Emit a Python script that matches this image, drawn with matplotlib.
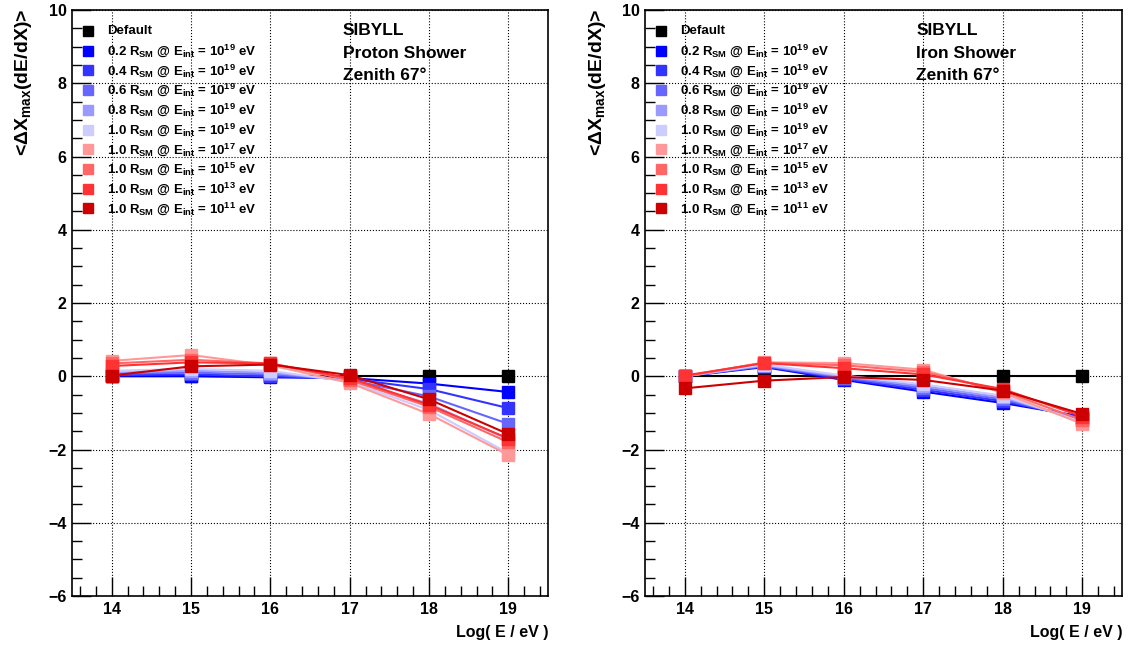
import matplotlib
matplotlib.use('Agg')
import matplotlib.pyplot as plt
from matplotlib.ticker import MultipleLocator

plt.rcParams['font.family'] = ['Liberation Sans', 'DejaVu Sans']
plt.rcParams['font.weight'] = 'bold'
plt.rcParams['mathtext.fontset'] = 'custom'
plt.rcParams['mathtext.rm'] = 'Liberation Sans:bold'
plt.rcParams['mathtext.it'] = 'Liberation Sans:bold'
plt.rcParams['mathtext.bf'] = 'Liberation Sans:bold'

# log10 of primary energy
log_e = [14, 15, 16, 17, 18, 19]

series_labels = [
    'Default',
    r'0.2 R$_{SM}$ @ E$_{int}$ = 10$^{19}$ eV',
    r'0.4 R$_{SM}$ @ E$_{int}$ = 10$^{19}$ eV',
    r'0.6 R$_{SM}$ @ E$_{int}$ = 10$^{19}$ eV',
    r'0.8 R$_{SM}$ @ E$_{int}$ = 10$^{19}$ eV',
    r'1.0 R$_{SM}$ @ E$_{int}$ = 10$^{19}$ eV',
    r'1.0 R$_{SM}$ @ E$_{int}$ = 10$^{17}$ eV',
    r'1.0 R$_{SM}$ @ E$_{int}$ = 10$^{15}$ eV',
    r'1.0 R$_{SM}$ @ E$_{int}$ = 10$^{13}$ eV',
    r'1.0 R$_{SM}$ @ E$_{int}$ = 10$^{11}$ eV',
]
series_colors = ['#000000', '#0000ff', '#3333ff', '#6666ff', '#9999ff', '#ccccff',
                 '#ff9999', '#ff6666', '#ff3333', '#cc0000']

# proton shower, <dXmax> per setting
proton_default = [0, 0, 0, 0, 0, 0]
proton_r02 = [0.0, 0.0, -0.03, -0.05, -0.2, -0.43]
proton_r04 = [0.03, 0.05, 0.0, -0.07, -0.35, -0.87]
proton_r06 = [0.07, 0.1, 0.05, -0.1, -0.55, -1.3]
proton_r08 = [0.1, 0.15, 0.1, -0.12, -0.75, -1.72]
proton_r10_e19 = [0.15, 0.2, 0.15, -0.15, -0.92, -2.1]
proton_e17 = [0.42, 0.58, 0.3, -0.18, -1.03, -2.15]
proton_e15 = [0.35, 0.45, 0.35, -0.1, -0.83, -1.8]
proton_e13 = [0.28, 0.38, 0.35, -0.05, -0.78, -1.7]
proton_e11 = [0.02, 0.27, 0.32, 0.03, -0.63, -1.58]

# iron shower
iron_default = [0, 0, 0, 0, 0, 0]
iron_r02 = [0.0, 0.25, -0.1, -0.42, -0.73, -1.1]
iron_r04 = [0.0, 0.27, -0.07, -0.37, -0.68, -1.13]
iron_r06 = [0.0, 0.28, -0.04, -0.32, -0.63, -1.17]
iron_r08 = [0.0, 0.3, -0.01, -0.27, -0.58, -1.2]
iron_r10_e19 = [0.0, 0.32, 0.02, -0.22, -0.53, -1.25]
iron_e17 = [0.0, 0.38, 0.36, 0.18, -0.45, -1.3]
iron_e15 = [0.0, 0.37, 0.3, 0.12, -0.4, -1.2]
iron_e13 = [0.02, 0.36, 0.22, 0.05, -0.35, -1.1]
iron_e11 = [-0.33, -0.12, -0.02, -0.1, -0.39, -1.03]

proton = [proton_default, proton_r02, proton_r04, proton_r06, proton_r08,
          proton_r10_e19, proton_e17, proton_e15, proton_e13, proton_e11]
iron = [iron_default, iron_r02, iron_r04, iron_r06, iron_r08,
        iron_r10_e19, iron_e17, iron_e15, iron_e13, iron_e11]


def draw_panel(ax, data, shower):
    for vals, col in zip(data, series_colors):
        ax.plot(log_e, vals, color=col, lw=1.5, marker='s', ms=8.5, mec=col)

    ax.set_xlim(13.5, 19.5)
    ax.set_ylim(-6, 10)
    ax.xaxis.set_major_locator(MultipleLocator(1))
    ax.xaxis.set_minor_locator(MultipleLocator(0.2))
    ax.yaxis.set_major_locator(MultipleLocator(2))
    ax.yaxis.set_minor_locator(MultipleLocator(0.5))
    ax.tick_params(which='both', direction='in', top=False, right=False, width=1)
    ax.tick_params(which='major', length=14, labelsize=11.5, pad=4)
    ax.tick_params(which='minor', length=7)
    ax.grid(True, which='major', color='black', ls=':', lw=0.8)
    for sp in ax.spines.values():
        sp.set_linewidth(1.2)
    for lab in ax.get_xticklabels() + ax.get_yticklabels():
        lab.set_fontweight('bold')

    # legend, ROOT style: marker only
    for i, (lab, col) in enumerate(zip(series_labels, series_colors)):
        y = 0.964 - i * 0.0336
        ax.plot([0.034], [y], transform=ax.transAxes, marker='s', ms=7,
                color=col, ls='none', clip_on=False)
        ax.text(0.074, y, lab, transform=ax.transAxes, fontsize=9.5,
                fontweight='bold', va='center', ha='left')

    ax.text(0.569, 0.977, 'SIBYLL\n' + shower + '\nZenith 67\u00b0',
            transform=ax.transAxes, fontsize=12.5, fontweight='bold',
            va='top', ha='left', linespacing=1.62)

    ax.set_xlabel('Log( E / eV )', fontsize=11.5, fontweight='bold')
    ax.xaxis.set_label_coords(1.0, -0.05)
    ax.xaxis.label.set_ha('right')


fig = plt.figure(figsize=(11.32, 6.46), dpi=100)
ax1 = fig.add_axes([0.0636, 0.0774, 0.4205, 0.9071])
ax2 = fig.add_axes([0.5698, 0.0774, 0.4214, 0.9071])

draw_panel(ax1, proton, 'Proton Shower')
draw_panel(ax2, iron, 'Iron Shower')

ylab = r'<$\Delta$X$_{max}$(dE/dX)>'
fig.text(0.021, 0.986, ylab, rotation=90, fontsize=14, fontweight='bold', ha='center', va='top')
fig.text(0.5275, 0.986, ylab, rotation=90, fontsize=14, fontweight='bold', ha='center', va='top')

fig.savefig('out.png', dpi=100)
